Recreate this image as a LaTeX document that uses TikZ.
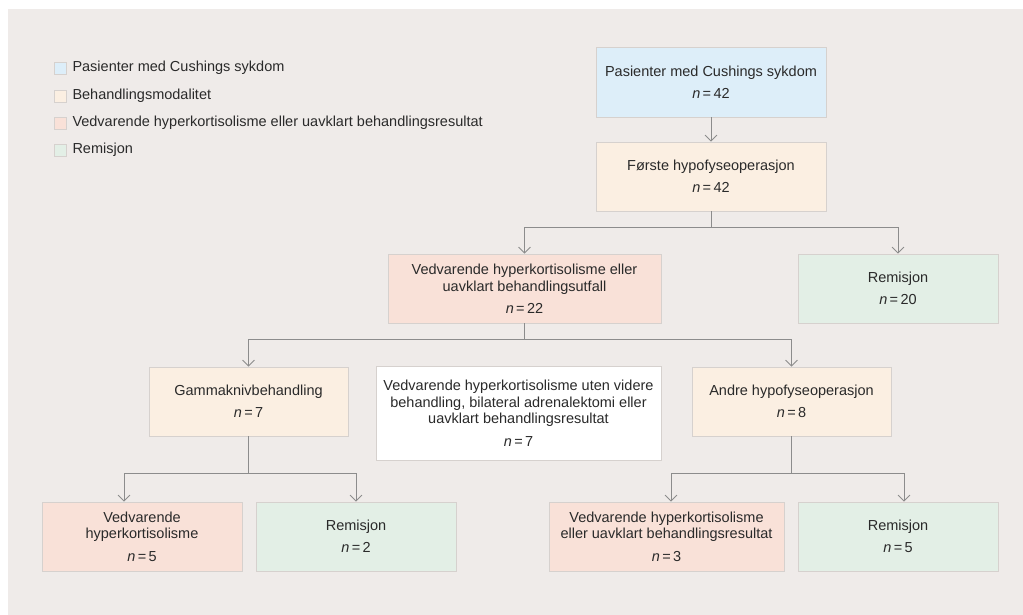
\documentclass[tikz,border=0pt]{standalone}
\usepackage{fontspec}
\setmainfont{Liberation Sans}
\usetikzlibrary{positioning,arrows.meta}

\definecolor{panelgray}{HTML}{EFEBE9}
\definecolor{pasblue}{HTML}{DDEEF9}
\definecolor{behpeach}{HTML}{FBEFE2}
\definecolor{vedred}{HTML}{F9E1D8}
\definecolor{remgreen}{HTML}{E3EFE6}
\definecolor{linegray}{HTML}{8C8C8C}
\definecolor{edgegray}{HTML}{D6D1CE}
\definecolor{txt}{HTML}{2A2A2A}

\newcommand{\nn}[1]{\textit{n}\,=\,#1}

\begin{document}
\begin{tikzpicture}[
  x=1pt, y=-1pt,
  box/.style={draw=edgegray, line width=0.8pt, align=center, inner sep=0pt,
    minimum height=69pt, text=txt, font=\fontsize{14.5pt}{16.8pt}\selectfont},
  arr/.style={-{Straight Barb[length=6pt,width=12pt]}, draw=linegray, line width=0.8pt},
  link/.style={draw=linegray, line width=0.8pt},
  sq/.style={draw=edgegray, line width=0.6pt, minimum size=12pt, inner sep=0pt},
  lbl/.style={right=6pt of #1, inner sep=0pt, text=txt, font=\fontsize{14.5pt}{16.8pt}\selectfont},
]
\useasboundingbox (0,0) rectangle (1023,615);
\fill[panelgray] (8,9.5) rectangle (1023,615);

% legend
\node[sq, fill=pasblue] (sq1) at (60,68) {};
\node[lbl=sq1] {Pasienter med Cushings sykdom};
\node[sq, fill=behpeach] (sq2) at (60,96) {};
\node[lbl=sq2] {Behandlingsmodalitet};
\node[sq, fill=vedred] (sq3) at (60,123) {};
\node[lbl=sq3] {Vedvarende hyperkortisolisme eller uavklart behandlingsresultat};
\node[sq, fill=remgreen] (sq4) at (60,150) {};
\node[lbl=sq4] {Remisjon};

% boxes
\node[box, fill=pasblue, minimum width=230pt, minimum height=70pt] (pas) at (711,82)
  {Pasienter med Cushings sykdom\\[5.5pt] \nn{42}};
\node[box, fill=behpeach, minimum width=230pt] (op1) at (711,176.5)
  {Første hypofyseoperasjon\\[5.5pt] \nn{42}};
\node[box, fill=vedred, minimum width=273pt] (ved22) at (524.5,288.5)
  {Vedvarende hyperkortisolisme eller\\ uavklart behandlingsutfall\\[5.5pt] \nn{22}};
\node[box, fill=remgreen, minimum width=200pt] (rem20) at (898,288.5)
  {Remisjon\\[5.5pt] \nn{20}};
\node[box, fill=behpeach, minimum width=199pt] (gk) at (248.5,401.5)
  {Gammaknivbehandling\\[5.5pt] \nn{7}};
\node[box, fill=white, minimum width=285pt, minimum height=94pt] (ved7) at (518.5,413)
  {Vedvarende hyperkortisolisme uten videre\\ behandling, bilateral adrenalektomi eller\\ uavklart behandlingsresultat\\[5.5pt] \nn{7}};
\node[box, fill=behpeach, minimum width=199pt] (op2) at (791.5,401.5)
  {Andre hypofyseoperasjon\\[5.5pt] \nn{8}};
\node[box, fill=vedred, minimum width=200pt] (ved5) at (142,536.5)
  {Vedvarende\\ hyperkortisolisme\\[5.5pt] \nn{5}};
\node[box, fill=remgreen, minimum width=200pt] (rem2) at (356,536.5)
  {Remisjon\\[5.5pt] \nn{2}};
\node[box, fill=vedred, minimum width=235pt] (ved3) at (666.5,536.5)
  {Vedvarende hyperkortisolisme\\ eller uavklart behandlingsresultat\\[5.5pt] \nn{3}};
\node[box, fill=remgreen, minimum width=200pt] (rem5) at (898,536.5)
  {Remisjon\\[5.5pt] \nn{5}};

% connectors
\draw[arr] (pas) -- (op1);
\draw[link] (op1.south) -- ++(0,16) coordinate (j1);
\draw[arr] (j1) -| (ved22.north);
\draw[arr] (j1) -| (rem20.north);
\draw[link] (ved22.south) -- ++(0,16) coordinate (j2);
\draw[arr] (j2) -| (gk.north);
\draw[arr] (j2) -| (op2.north);
\draw[link] (gk.south) -- ++(0,37) coordinate (j3);
\draw[arr] (j3) -| ([xshift=-18pt]ved5.north);
\draw[arr] (j3) -| (rem2.north);
\draw[link] (op2.south) -- ++(0,37) coordinate (j4);
\draw[arr] (j4) -| ([xshift=4.5pt]ved3.north);
\draw[arr] (j4) -| ([xshift=6pt]rem5.north);
\end{tikzpicture}
\end{document}
